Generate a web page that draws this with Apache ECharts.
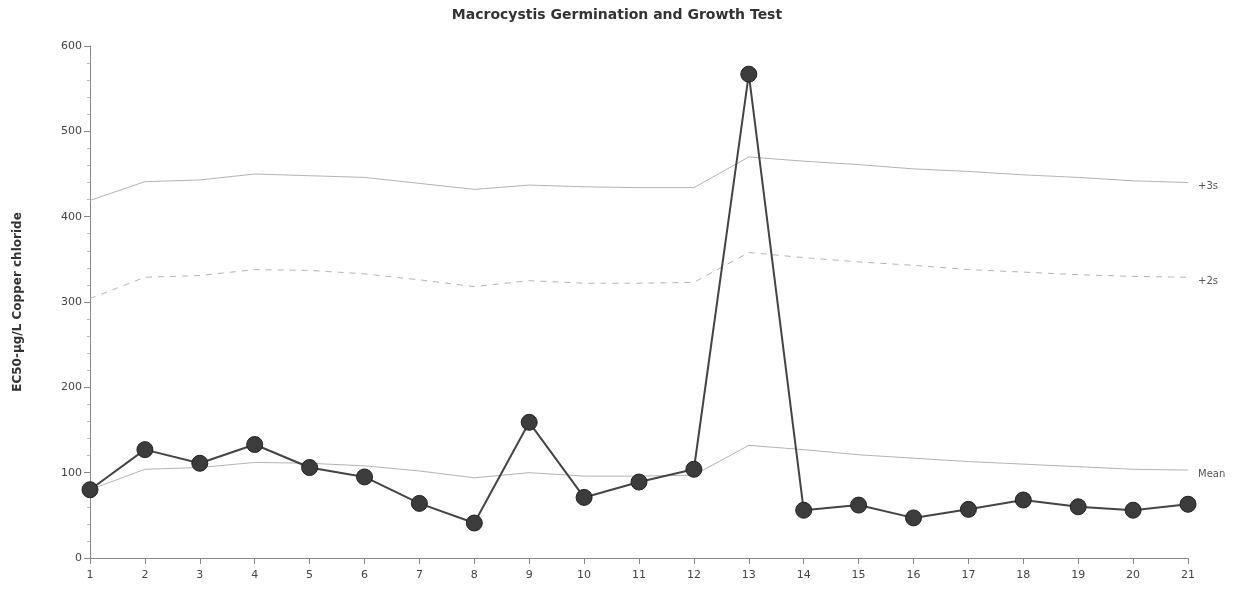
<!DOCTYPE html>
<html>
<head>
<meta charset="utf-8">
<script src="https://cdn.jsdelivr.net/npm/echarts@6/dist/echarts.min.js"></script>
<style>
  html, body { margin: 0; padding: 0; background: #fff; }
  #main { width: 1234px; height: 593px; }
</style>
</head>
<body>
<div id="main"></div>
<script>
// test numbers along the x axis
const categories = ["1","2","3","4","5","6","7","8","9","10","11","12","13","14","15","16","17","18","19","20","21"];
// EC50 results
const ec50 = [80, 127, 111, 133, 106, 95, 64, 41, 159, 71, 89, 104, 567, 56, 62, 47, 57, 68, 60, 56, 63];
// running mean and control limits
const meanLine = [80, 104, 106, 112, 111, 108, 102, 94, 100, 96, 96, 97, 132, 127, 121, 117, 113, 110, 107, 104, 103];
const plus2s = [304, 329, 331, 338, 337, 333, 326, 318, 325, 322, 322, 323, 358, 352, 347, 343, 338, 335, 332, 330, 329];
const plus3s = [419, 441, 443, 450, 448, 446, 439, 432, 437, 435, 434, 434, 470, 465, 461, 456, 453, 449, 446, 442, 440];

const font = "DejaVu Sans";

function limitSeries(name, data, dashed) {
  return {
    name: name,
    type: "line",
    data: data,
    symbol: "none",
    silent: true,
    lineStyle: { color: "#b4b4b4", width: 1, type: dashed ? [6, 6] : "solid" },
    endLabel: {
      show: true,
      formatter: name,
      distance: 10,
      offset: [0, 4],
      color: "#555",
      fontFamily: font,
      fontSize: 10
    },
    z: 1
  };
}

const chart = echarts.init(document.getElementById("main"));
chart.setOption({
  animation: false,
  backgroundColor: "#fff",
  title: {
    text: "Macrocystis Germination and Growth Test",
    left: "center",
    top: 3,
    textStyle: { fontFamily: font, fontSize: 14, fontWeight: "bold", color: "#333" }
  },
  grid: { left: 90, right: 46, top: 46, bottom: 35 },
  xAxis: {
    type: "category",
    data: categories,
    boundaryGap: false,
    axisLine: { lineStyle: { color: "#888", width: 1 } },
    axisTick: { alignWithLabel: true, length: 6, lineStyle: { color: "#888" } },
    axisLabel: { color: "#444", fontFamily: font, fontSize: 11, margin: 12 },
    splitLine: { show: false }
  },
  yAxis: {
    type: "value",
    min: 0,
    max: 600,
    interval: 100,
    name: "EC50-µg/L Copper chloride",
    nameLocation: "middle",
    nameGap: 66,
    nameRotate: 90,
    nameTextStyle: { fontFamily: font, fontSize: 12, fontWeight: "bold", color: "#333", padding: [0, 0, 0, 0] },
    axisLine: { show: true, lineStyle: { color: "#888", width: 1 } },
    axisTick: { show: true, length: 6, lineStyle: { color: "#888" } },
    minorTick: { show: true, splitNumber: 5, length: 3, lineStyle: { color: "#bbb" } },
    axisLabel: { color: "#444", fontFamily: font, fontSize: 11, margin: 8 },
    splitLine: { show: false }
  },
  series: [
    limitSeries("+3s", plus3s, false),
    limitSeries("+2s", plus2s, true),
    limitSeries("Mean", meanLine, false),
    {
      name: "EC50",
      type: "line",
      data: ec50,
      symbol: "circle",
      symbolSize: 16,
      itemStyle: { color: "#3c3c3c", borderColor: "#222", borderWidth: 1 },
      lineStyle: { color: "#444", width: 2 },
      z: 3
    }
  ]
});
</script>
</body>
</html>
